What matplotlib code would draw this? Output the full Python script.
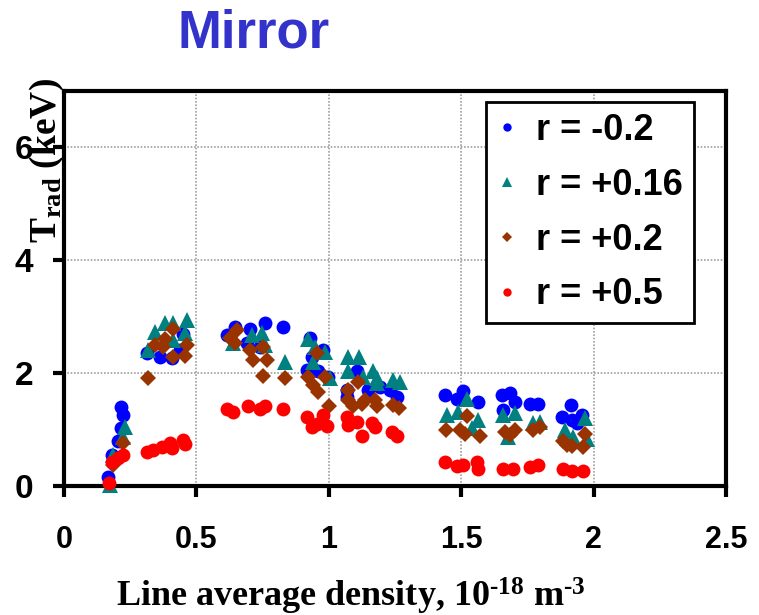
import matplotlib
matplotlib.use("Agg")
import matplotlib.pyplot as plt
from matplotlib.lines import Line2D

plt.rcParams['font.family'] = ['Liberation Sans', 'DejaVu Sans']
plt.rcParams['mathtext.fontset'] = 'custom'
plt.rcParams['mathtext.rm'] = 'Liberation Serif:bold'
plt.rcParams['mathtext.bf'] = 'Liberation Serif:bold'
plt.rcParams['mathtext.it'] = 'Liberation Serif:bold:italic'

title = "Mirror"
xlabel = "Line average density, 10$^{\\mathregular{\u201018}}$ m$^{\\mathregular{\u20103}}$"
ylabel = "T$_{\\mathregular{rad}}$ (keV)"
xticks = [0, 0.5, 1, 1.5, 2, 2.5]
xticklabels = ["0", "0.5", "1", "1.5", "2", "2.5"]
yticks = [0, 2, 4, 6]
yticklabels = ["0", "2", "4", "6"]

labels = ["r = -0.2", "r = +0.16", "r = +0.2", "r = +0.5"]

# r = -0.2 (blue circles)
x_m02 = [0.165, 0.18, 0.205, 0.215, 0.224, 0.214, 0.312, 0.363, 0.407, 0.438, 0.45,
         0.614, 0.646, 0.69, 0.702, 0.74, 0.759, 0.826,
         0.917, 0.929, 0.935, 0.96, 0.979, 0.998, 1.068, 1.068, 1.105, 1.149, 1.193,
         1.231, 1.256,
         1.439, 1.483, 1.506, 1.565, 1.653, 1.684, 1.659, 1.703, 1.76, 1.791,
         1.88, 1.914, 1.917, 1.936, 1.955]
y_m02 = [0.165, 0.55, 0.79, 1.03, 1.25, 1.40, 2.35, 2.29, 2.26, 2.41, 2.70,
         2.68, 2.82, 2.53, 2.79, 2.47, 2.88, 2.81,
         2.06, 2.62, 2.29, 2.03, 2.41, 1.94, 1.70, 1.58, 2.03, 1.70, 1.76,
         1.70, 1.58,
         1.61, 1.55, 1.68, 1.49, 1.61, 1.65, 1.35, 1.49, 1.46, 1.46,
         1.23, 1.44, 1.17, 1.11, 1.26]

# r = +0.16 (teal triangles)
x_p016 = [0.174, 0.186, 0.224, 0.23, 0.318, 0.344, 0.381, 0.413, 0.413, 0.457, 0.463,
          0.64, 0.709, 0.746, 0.759, 0.835,
          0.923, 0.942, 0.948, 0.986, 1.005, 1.074, 1.074, 1.115, 1.13, 1.168, 1.181,
          1.181, 1.244, 1.269,
          1.445, 1.489, 1.521, 1.54, 1.565, 1.659, 1.678, 1.703, 1.772, 1.797,
          1.892, 1.924, 1.968, 1.974]
y_p016 = [0.02, 0.55, 0.87, 1.05, 2.41, 2.73, 2.88, 2.88, 2.59, 2.71, 2.94,
          2.53, 2.68, 2.71, 2.50, 2.20,
          2.60, 2.20, 2.47, 2.38, 1.91, 2.29, 2.03, 2.29, 1.94, 2.03, 1.91,
          1.82, 1.88, 1.85,
          1.26, 1.32, 1.54, 1.02, 1.17, 1.26, 0.86, 1.29, 1.11, 1.14,
          0.99, 0.87, 1.20, 0.84]

# r = +0.2 (brown diamonds)
x_p02 = [0.186, 0.224, 0.318, 0.344, 0.375, 0.381, 0.413, 0.413, 0.457, 0.463,
         0.627, 0.646, 0.652, 0.702, 0.715, 0.75, 0.753, 0.765, 0.835,
         0.923, 0.942, 0.954, 0.96, 0.986, 1.002, 1.074, 1.074, 1.093, 1.111, 1.124,
         1.137, 1.174, 1.181, 1.244, 1.266,
         1.443, 1.495, 1.514, 1.521, 1.571, 1.665, 1.684, 1.703, 1.772, 1.797,
         1.886, 1.898, 1.917, 1.961, 1.968]
y_p02 = [0.37, 0.76, 1.91, 2.50, 2.47, 2.60, 2.78, 2.29, 2.30, 2.50,
         2.62, 2.53, 2.76, 2.41, 2.23, 1.95, 2.47, 2.23, 1.91,
         1.94, 1.79, 2.35, 1.67, 1.93, 1.42, 1.70, 1.52, 1.41, 1.85, 1.45,
         1.52, 1.52, 1.41, 1.44, 1.38,
         1.00, 1.00, 0.93, 1.24, 0.89, 0.96, 0.90, 0.99, 0.99, 1.05,
         0.79, 0.73, 0.71, 0.69, 0.92]

# r = +0.5 (red circles)
x_p05 = [0.171, 0.18, 0.205, 0.224, 0.312, 0.337, 0.369, 0.40, 0.407, 0.45, 0.457,
         0.614, 0.64, 0.696, 0.74, 0.759, 0.826,
         0.917, 0.935, 0.954, 0.979, 0.992, 1.068, 1.074, 1.105, 1.124, 1.162, 1.174,
         1.238, 1.256,
         1.439, 1.483, 1.508, 1.558, 1.565, 1.659, 1.696, 1.76, 1.791,
         1.886, 1.917, 1.961]
y_p05 = [0.05, 0.43, 0.49, 0.55, 0.61, 0.64, 0.69, 0.76, 0.67, 0.82, 0.74,
         1.36, 1.32, 1.42, 1.36, 1.42, 1.36,
         1.22, 1.05, 1.10, 1.26, 1.06, 1.22, 1.08, 1.14, 0.89, 1.11, 1.05,
         0.96, 0.89,
         0.43, 0.36, 0.37, 0.43, 0.31, 0.30, 0.30, 0.33, 0.37,
         0.31, 0.27, 0.27]

series = [
    (x_m02, y_m02, 'o', '#0000FF', 10),
    (x_p016, y_p016, '^', '#008080', 11),
    (x_p02, y_p02, 'D', '#993300', 8.5),
    (x_p05, y_p05, 'o', '#FF0000', 10),
]

fig = plt.figure(figsize=(7.59, 6.15), dpi=100)
ax = fig.add_axes([64/759, 1-486/615, (726-64)/759, (486-91)/615])

handles = []
for (xs, ys, mk, col, ms), lab in zip(series, labels):
    ax.plot(xs, ys, linestyle='none', marker=mk, color=col, markersize=ms,
            markeredgewidth=0, clip_on=False, zorder=3)
    handles.append(Line2D([], [], linestyle='none', marker=mk, color=col,
                          markersize=ms*0.6, markeredgewidth=0, label=lab))

ax.set_xlim(0, 2.5)
ax.set_ylim(0, 7)
ax.set_xticks(xticks)
ax.set_xticklabels(xticklabels)
ax.set_yticks(yticks)
ax.set_yticklabels(yticklabels)
for lab in ax.get_xticklabels() + ax.get_yticklabels():
    lab.set_fontweight('bold')
ax.tick_params(axis='x', direction='out', length=8, width=3, labelsize=22, pad=20)
ax.tick_params(axis='y', direction='out', length=8, width=3, labelsize=24, pad=14)

ax.grid(True, color='#a0a0a0', linestyle=(0, (1, 1)), linewidth=1.2, zorder=0)
ax.set_axisbelow(True)
for sp in ax.spines.values():
    sp.set_linewidth(3)
    sp.set_color('black')

leg = ax.legend(handles=handles, loc='upper left', bbox_to_anchor=(0.637, 0.972),
                frameon=True, fancybox=False, framealpha=1, edgecolor='black',
                prop={'family': 'Liberation Sans', 'weight': 'bold', 'size': 26},
                handlelength=0.6, handletextpad=0.5, labelspacing=0.55,
                borderpad=0.3, borderaxespad=0)
leg.get_frame().set_linewidth(2)

fig.text(254/759, 1-48/615, title, color='#3333CC', fontsize=38, fontweight='bold',
         ha='center', va='baseline')
fig.text(351/759, 1-607/615, xlabel, fontsize=26, ha='center', va='baseline',
         family='Liberation Serif', fontweight='bold')
fig.text(47/759, 1-161/615, ylabel, fontsize=27, ha='center', va='center',
         rotation=90, family='Liberation Serif', fontweight='bold')

fig.savefig('out.png', dpi=100)
